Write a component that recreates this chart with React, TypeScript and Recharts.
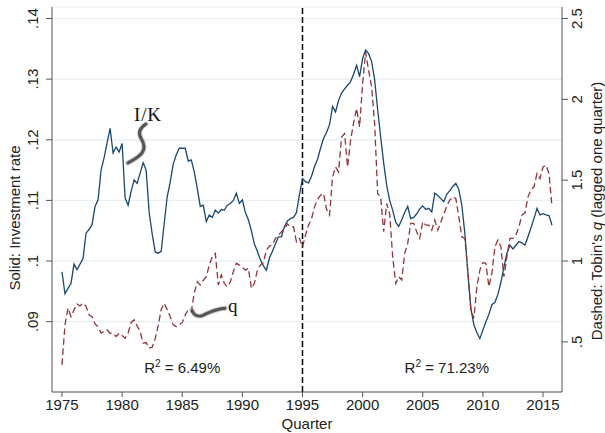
import {
  CartesianGrid,
  Label,
  Line,
  LineChart,
  ReferenceDot,
  ReferenceLine,
  XAxis,
  YAxis,
} from "recharts";

const START_YEAR = 1975;

// investment rate I/K, quarterly from 1975Q1
const IK = [
  0.0982, 0.0946, 0.0955, 0.0963,
  0.0995, 0.0986, 0.0995, 0.1004,
  0.1046, 0.1052, 0.106, 0.109,
  0.1101, 0.115, 0.117, 0.1195,
  0.1219, 0.1178, 0.1188, 0.118,
  0.1194, 0.1104, 0.1092, 0.1115,
  0.1134, 0.1128, 0.1145, 0.1162,
  0.115, 0.108, 0.1045, 0.1015,
  0.1013, 0.1016, 0.1062, 0.1106,
  0.113, 0.116, 0.1175, 0.1186,
  0.1186, 0.1186, 0.1165, 0.1167,
  0.1147, 0.112, 0.109, 0.1092,
  0.1065, 0.1076, 0.1072, 0.1084,
  0.1079, 0.1085, 0.1084, 0.1092,
  0.1095, 0.11, 0.1112, 0.1095,
  0.1101, 0.108, 0.1068, 0.105,
  0.1028, 0.1016, 0.1002, 0.0992,
  0.0985, 0.1005, 0.1016, 0.1028,
  0.104, 0.104, 0.1057, 0.1066,
  0.107, 0.1072, 0.108, 0.111,
  0.1136, 0.1131, 0.1129, 0.114,
  0.1156, 0.1168, 0.1186, 0.1202,
  0.1212, 0.1225, 0.1255, 0.1246,
  0.1265, 0.1277, 0.1284, 0.129,
  0.1296, 0.1308, 0.1323, 0.1304,
  0.1334, 0.1348, 0.1342, 0.1329,
  0.1299, 0.125, 0.1205, 0.1162,
  0.1125, 0.11, 0.1084, 0.1064,
  0.1057, 0.1068, 0.108, 0.109,
  0.107, 0.1072, 0.1078, 0.1086,
  0.1091, 0.1085, 0.1087, 0.1081,
  0.1112, 0.1108, 0.1103, 0.1098,
  0.111, 0.1116, 0.1123, 0.1128,
  0.1118, 0.1092, 0.1046, 0.098,
  0.0922, 0.0895, 0.0882, 0.0872,
  0.0886, 0.09, 0.0912, 0.0928,
  0.0932, 0.0945, 0.0965, 0.099,
  0.1013, 0.1026, 0.102, 0.1026,
  0.1032, 0.103, 0.1026, 0.104,
  0.1055, 0.107, 0.1087, 0.1076,
  0.1078, 0.1076, 0.1075, 0.1059,
];

// Tobin's q lagged one quarter, quarterly from 1975Q1
const Q = [
  0.358, 0.605, 0.708, 0.656,
  0.698, 0.735, 0.722, 0.739,
  0.72, 0.667, 0.656, 0.61,
  0.594, 0.555, 0.565, 0.574,
  0.553, 0.553, 0.533, 0.553,
  0.54, 0.523, 0.555, 0.62,
  0.636, 0.599, 0.564, 0.492,
  0.496, 0.461, 0.467, 0.52,
  0.6, 0.7, 0.739, 0.698,
  0.656, 0.605, 0.594, 0.605,
  0.62, 0.667, 0.698, 0.687,
  0.801, 0.872, 0.852, 0.88,
  0.903, 0.975, 1.027, 1.047,
  0.852, 0.914, 0.862, 0.841,
  0.872, 0.934, 0.986, 0.975,
  0.96, 0.944, 0.955, 0.831,
  0.862, 0.944, 0.975, 0.99,
  1.068, 1.093, 1.099, 1.14,
  1.16, 1.181, 1.196, 1.23,
  1.212, 1.212, 1.119, 1.14,
  1.088, 1.16, 1.222, 1.26,
  1.335, 1.38, 1.407, 1.418,
  1.32, 1.284, 1.52, 1.582,
  1.551, 1.767, 1.788, 1.582,
  1.747, 1.855, 1.943, 1.829,
  2.097, 2.292, 2.179, 2.076,
  1.85, 1.418, 1.397, 1.181,
  1.356, 1.29, 1.027, 0.862,
  0.903, 0.883, 1.047, 1.109,
  1.233, 1.233, 1.18, 1.14,
  1.243, 1.222, 1.222, 1.191,
  1.253, 1.191, 1.24, 1.29,
  1.34, 1.377, 1.397, 1.387,
  1.273, 1.15, 1.14, 0.944,
  0.7, 0.646, 0.841, 0.944,
  0.99, 0.986, 0.841, 0.924,
  1.088, 1.13, 1.088, 0.903,
  1.027, 1.14, 1.14, 1.16,
  1.212, 1.284, 1.298, 1.397,
  1.44, 1.459, 1.541, 1.51,
  1.582, 1.593, 1.541, 1.335,
];

const YEAR_TICKS = [1975, 1980, 1985, 1990, 1995, 2000, 2005, 2010, 2015];
const IK_TICKS = [0.09, 0.1, 0.11, 0.12, 0.13, 0.14];
const Q_TICKS = [0.5, 1, 1.5, 2, 2.5];

const data = IK.map((ik, i) => ({ t: START_YEAR + i / 4, ik, q: Q[i] }));

const SANS = "'Liberation Sans', Arial, sans-serif";
const SERIF = "'Liberation Serif', 'Times New Roman', serif";
const TEXT = "#222";
const AXIS = "#555";
const FS = 15;

const dot = (v: number) => String(v).replace(/^0\./, ".");

function LeftTick({ x, y, payload }: any) {
  const cx = x - 11;
  return (
    <text x={cx} y={y} dy="0.36em" textAnchor="middle" transform={`rotate(-90 ${cx} ${y})`}
      fontFamily={SANS} fontSize={FS} fill={TEXT}>
      {dot(payload.value)}
    </text>
  );
}

function RightTick({ x, y, payload }: any) {
  const cx = x + 7;
  return (
    <text x={cx} y={y} dy="0.36em" textAnchor="middle" transform={`rotate(-90 ${cx} ${y})`}
      fontFamily={SANS} fontSize={FS} fill={TEXT}>
      {dot(payload.value)}
    </text>
  );
}

function BottomTick({ x, y, payload }: any) {
  return (
    <text x={x} y={y + 11} textAnchor="middle" fontFamily={SANS} fontSize={FS} fill={TEXT}>
      {payload.value}
    </text>
  );
}

function LeftTitle() {
  return (
    <text x={15} y={218} dy="0.36em" textAnchor="middle" transform="rotate(-90 15 218)"
      fontFamily={SANS} fontSize={FS} fill={TEXT}>
      Solid: Investment rate
    </text>
  );
}

function RightTitle() {
  return (
    <text x={597} y={211} dy="0.36em" textAnchor="middle" transform="rotate(-90 597 211)"
      fontFamily={SANS} fontSize={FS} fill={TEXT}>
      Dashed: Tobin's <tspan fontStyle="italic">q</tspan> (lagged one quarter)
    </text>
  );
}

function BottomTitle() {
  return (
    <text x={307} y={429} textAnchor="middle" fontFamily={SANS} fontSize={FS} fill={TEXT}>
      Quarter
    </text>
  );
}

const IK_PATH = "c-6,4 -8,9 -5,14 c3,5 5,10 1,15 c-4,5 -9,7 -14,10";
const Q_PATH = "c2,5 6,7 11,5 c6,-3 12,-6 22,-7";

function IKNote({ cx, cy }: any) {
  return (
    <g>
      <path d={`M${cx},${cy} ${IK_PATH}`} fill="none" stroke="#999" strokeWidth={5}
        strokeLinecap="round" opacity={0.5} />
      <path d={`M${cx},${cy} ${IK_PATH}`} fill="none" stroke="#555" strokeWidth={3}
        strokeLinecap="round" />
      <text x={cx + 2} y={cy - 3} textAnchor="middle" fontFamily={SERIF} fontSize={19}
        letterSpacing={0.8} fill="#111">
        I/K
      </text>
    </g>
  );
}

function QNote({ cx, cy }: any) {
  return (
    <g>
      <path d={`M${cx - 33},${cy + 2} ${Q_PATH}`} fill="none" stroke="#999" strokeWidth={5}
        strokeLinecap="round" opacity={0.5} />
      <path d={`M${cx - 33},${cy + 2} ${Q_PATH}`} fill="none" stroke="#555" strokeWidth={3}
        strokeLinecap="round" />
      <text x={cx + 3} y={cy + 3.5} fontFamily={SERIF} fontSize={19} fill="#111">
        q
      </text>
    </g>
  );
}

function R2({ cx, cy, text }: any) {
  return (
    <text x={cx} y={cy} textAnchor="middle" fontFamily={SANS} fontSize={FS} fill={TEXT}>
      R<tspan fontSize={10} dy={-6}>2</tspan>
      <tspan dy={6}>{` = ${text}`}</tspan>
    </text>
  );
}

export default function App() {
  return (
    <div style={{ position: "absolute", left: 0, top: 0, background: "#fff" }}>
      <LineChart width={605} height={433} data={data} margin={{ top: 7, right: 0, bottom: 0, left: 0 }}>
        <CartesianGrid yAxisId="left" vertical={false} stroke="#e6eef1" strokeWidth={1.2} />
        <XAxis
          dataKey="t"
          type="number"
          domain={[1974.17, 2016.58]}
          ticks={YEAR_TICKS}
          allowDataOverflow
          height={41}
          tickSize={5}
          stroke={AXIS}
          tick={<BottomTick />}
        >
          <Label content={<BottomTitle />} />
        </XAxis>
        <YAxis
          yAxisId="left"
          domain={[0.0784, 0.1419]}
          ticks={IK_TICKS}
          allowDataOverflow
          width={52}
          tickSize={6}
          tickMargin={2}
          stroke={AXIS}
          tick={<LeftTick />}
        >
          <Label content={<LeftTitle />} />
        </YAxis>
        <YAxis
          yAxisId="right"
          orientation="right"
          domain={[0.19, 2.571]}
          ticks={Q_TICKS}
          allowDataOverflow
          width={43}
          tickSize={6}
          tickMargin={2}
          stroke={AXIS}
          tick={<RightTick />}
        >
          <Label content={<RightTitle />} />
        </YAxis>
        <ReferenceLine x={1995} yAxisId="left" stroke="#000" strokeWidth={1.5} strokeDasharray="6 3" />
        <Line
          yAxisId="left"
          dataKey="ik"
          type="linear"
          stroke="#1a476f"
          strokeWidth={1.3}
          dot={false}
          isAnimationActive={false}
        />
        <Line
          yAxisId="right"
          dataKey="q"
          type="linear"
          stroke="#90353b"
          strokeWidth={1.3}
          strokeDasharray="6.5 3.5"
          dot={false}
          isAnimationActive={false}
        />
        <ReferenceDot yAxisId="left" x={1981.98} y={0.1226} ifOverflow="visible" shape={<IKNote />} />
        <ReferenceDot yAxisId="left" x={1988.55} y={0.0922} ifOverflow="visible" shape={<QNote />} />
        <ReferenceDot yAxisId="left" x={1985} y={0.0815} ifOverflow="visible" shape={<R2 text="6.49%" />} />
        <ReferenceDot yAxisId="left" x={2007} y={0.0815} ifOverflow="visible" shape={<R2 text="71.23%" />} />
      </LineChart>
    </div>
  );
}
